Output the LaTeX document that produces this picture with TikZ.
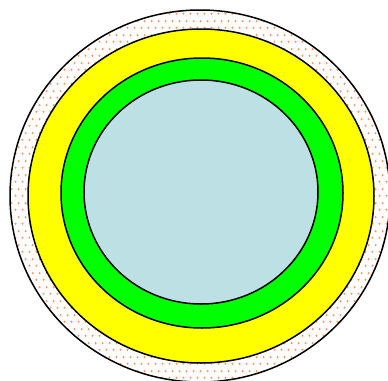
\documentclass[tikz,border=0pt]{standalone}
\usetikzlibrary{patterns.meta}
\tikzdeclarepattern{
  name=orangedots,
  type=uncolored,
  bottom left={(0pt,0pt)},
  top right={(7pt,14pt)},
  tile size={(7pt,14pt)},
  code={
    \fill (1.75pt,3.5pt) circle (1.3pt);
    \fill (5.25pt,10.5pt) circle (1.3pt);
  }
}
\definecolor{lblue}{RGB}{188,224,228}
\definecolor{ryellow}{RGB}{255,255,0}
\definecolor{rgreen}{RGB}{0,255,0}
\definecolor{dotorange}{RGB}{255,150,90}
\tikzset{ring/.style={draw=black, line width=1.5pt}}
\begin{document}
\begin{tikzpicture}[x=1pt,y=-1pt]
\useasboundingbox (0,0) rectangle (388,380);
\path[fill=white] (200,196) ellipse [x radius=190, y radius=186];
\path[pattern={orangedots}, pattern color=dotorange] (200,196) ellipse [x radius=190, y radius=186];
\draw[ring] (200,196) ellipse [x radius=190, y radius=186];
\draw[ring, fill=ryellow] (201,196) ellipse [x radius=173, y radius=167];
\draw[ring, fill=rgreen] (202,193) ellipse [x radius=141, y radius=135];
\draw[ring, fill=lblue] (201,192) ellipse [x radius=117, y radius=112];
\end{tikzpicture}
\end{document}
